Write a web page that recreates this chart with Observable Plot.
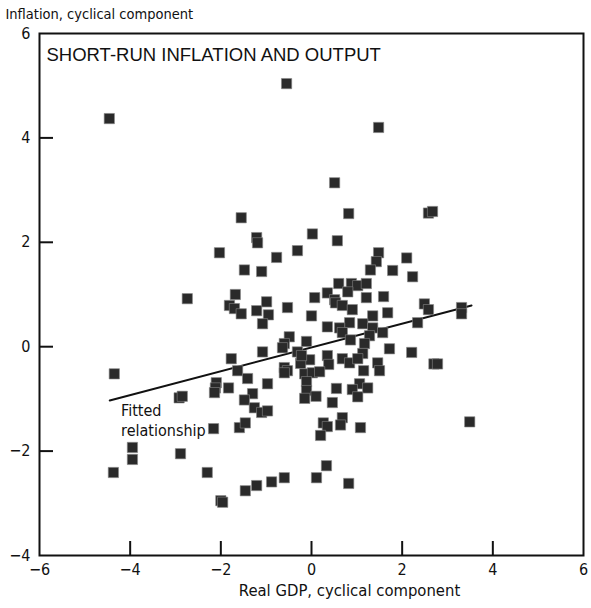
<!DOCTYPE html>
<html>
<head>
<meta charset="utf-8">
<script src="https://cdn.jsdelivr.net/npm/d3@7"></script>
<script src="https://cdn.jsdelivr.net/npm/@observablehq/plot@0.6"></script>
<style>
  html, body { margin: 0; padding: 0; background: #fff; }
  #chart { width: 591px; height: 608px; }
</style>
</head>
<body>
<div id="chart"></div>
<script>
// Real GDP, cyclical component (x) and Inflation, cyclical component (y)
const gdp = [
  -4.46, -0.55, 1.48, 0.51, 0.82, 2.58, 2.67, -1.55, 0.02, -1.21,
  -1.19, 0.57, -2.03, -0.31, 1.48, -0.77, 1.43, 2.10, -1.48, -1.10,
  1.30, 1.79, 2.23, 0.60, 0.88, 1.02, 1.21, 0.35, 0.80, 0.07,
  1.21, 1.59, 0.51, 2.49, 2.58, -2.74, -1.68, -0.99, -1.81, -1.70,
  -1.55, -1.21, -0.95, -1.08, -0.53, 0.00, 0.53, 0.68, 0.90, 3.31,
  3.31, 1.35, 1.68, 0.84, 0.35, 0.62, 0.68, 1.13, 1.35, 1.57,
  1.28, 2.34, 0.86, -0.11, 1.17, 1.13, 1.72, 2.21, 2.70, 2.78,
  -0.49, -0.60, -0.64, -1.08, -0.31, -0.04, -0.24, -0.22, 0.35, 0.38,
  0.68, 0.84, 1.02, 1.46, 1.50, 1.15, -0.60, -0.53, -0.60, -0.15,
  0.02, 0.18, -0.11, -1.77, -1.63, -1.41, -2.10, -2.12, -2.14, -1.83,
  -0.97, -1.30, -1.48, -1.26, -1.10, -0.97, -0.11, 0.55, -0.15, 0.10,
  0.46, 1.06, 1.24, 0.90, 1.02, -2.92, -2.85, -4.35, -2.16, -1.59,
  -1.46, 0.26, 0.35, 0.20, 0.68, 0.64, 1.08, 3.49, -3.95, -3.95,
  -2.89, -4.37, -2.30, -2.00, -1.96, -1.46, -1.21, -0.88, -0.60, 0.11,
  0.33, 0.82
];
const inflation = [
  4.37, 5.04, 4.20, 3.14, 2.55, 2.56, 2.59, 2.47, 2.16, 2.09,
  1.99, 2.03, 1.80, 1.84, 1.80, 1.71, 1.63, 1.70, 1.47, 1.44,
  1.47, 1.46, 1.34, 1.21, 1.21, 1.17, 1.21, 1.03, 1.05, 0.94,
  0.94, 0.96, 0.90, 0.82, 0.71, 0.92, 1.00, 0.86, 0.79, 0.73,
  0.63, 0.69, 0.61, 0.44, 0.75, 0.59, 0.84, 0.79, 0.71, 0.75,
  0.63, 0.59, 0.65, 0.46, 0.38, 0.36, 0.27, 0.44, 0.36, 0.27,
  0.21, 0.46, 0.13, 0.10, 0.06, -0.13, -0.04, -0.11, -0.33, -0.33,
  0.19, 0.06, -0.02, -0.10, -0.10, -0.25, -0.32, -0.17, -0.17, -0.34,
  -0.23, -0.31, -0.23, -0.31, -0.46, -0.46, -0.40, -0.46, -0.50, -0.52,
  -0.50, -0.48, -0.67, -0.23, -0.46, -0.61, -0.69, -0.79, -0.88, -0.79,
  -0.71, -0.90, -1.02, -1.17, -1.26, -1.23, -0.84, -0.80, -0.99, -0.95,
  -1.07, -0.71, -0.79, -0.82, -0.96, -0.98, -0.95, -0.52, -1.57, -1.55,
  -1.46, -1.46, -1.53, -1.70, -1.36, -1.50, -1.55, -1.44, -1.93, -2.16,
  -2.05, -2.41, -2.41, -2.95, -2.98, -2.76, -2.66, -2.59, -2.51, -2.51,
  -2.28, -2.62
];
// Fitted relationship endpoints
const fitGdp = [-4.45, 3.53];
const fitInflation = [-1.03, 0.79];

const xTickValues = [-6, -4, -2, 0, 2, 4, 6];
const yTickValues = [-4, -2, 0, 2, 4, 6];
const xInnerTicks = [-4, -2, 0, 2, 4];
const yInnerTicks = [-2, 0, 2, 4];

const titleText = "SHORT-RUN INFLATION AND OUTPUT";
const xLabel = "Real GDP, cyclical component";
const yLabel = "Inflation, cyclical component";
const fitLabel = "Fitted\nrelationship";

const points = gdp.map((g, i) => ({gdp: g, inflation: inflation[i]}));
const fit = fitGdp.map((g, i) => ({gdp: g, inflation: fitInflation[i]}));
const fmt = d => (d < 0 ? "\u2212" + Math.abs(d) : String(d));

const narrow = "'Liberation Sans Narrow', 'DejaVu Sans Condensed', 'Roboto Condensed', sans-serif";

const chart = Plot.plot({
  width: 591,
  height: 608,
  marginLeft: 39,
  marginTop: 33,
  marginRight: 8,
  marginBottom: 53,
  x: {domain: [-6, 6], label: null},
  y: {domain: [-4, 6], label: null},
  style: {fontFamily: narrow, background: "#fff", color: "#111"},
  marks: [
    Plot.axisX(xTickValues, {tickSize: 0, tickPadding: 8, tickFormat: fmt, fontSize: 16, fill: "#111", label: null}),
    Plot.axisX(xInnerTicks, {tickSize: -14, tickFormat: () => "", strokeWidth: 2, stroke: "#111", label: null}),
    Plot.axisY(yTickValues, {tickSize: 0, tickPadding: 9, tickFormat: fmt, fontSize: 16, fill: "#111", label: null}),
    Plot.axisY(yInnerTicks, {tickSize: -14, tickFormat: () => "", strokeWidth: 2, stroke: "#111", label: null}),
    Plot.frame({stroke: "#111", strokeWidth: 2}),
    Plot.text([titleText], {frameAnchor: "top-left", dx: 7, dy: 14, textAnchor: "start", fontSize: 18.5, fontFamily: "'Liberation Sans', Arial, sans-serif", fill: "#111"}),
    Plot.text([yLabel], {frameAnchor: "top-left", dx: -34, dy: -24.5, textAnchor: "start", fontSize: 14.5, fill: "#111"}),
    Plot.text([xLabel], {frameAnchor: "bottom", dx: 38, dy: 40, fontSize: 16.5, fill: "#111"}),
    Plot.line(fit, {x: "gdp", y: "inflation", stroke: "#111", strokeWidth: 2}),
    Plot.dot(points, {x: "gdp", y: "inflation", symbol: "square", r: 5.8, fill: "#2a2a2a", stroke: "#888", strokeWidth: 0.6}),
    Plot.text([fitLabel], {x: () => -4.2, y: () => -1.06, textAnchor: "start", lineAnchor: "top", lineHeight: 1.25, fontSize: 16, fill: "#111"})
  ]
});
document.getElementById("chart").appendChild(chart);
</script>
</body>
</html>
